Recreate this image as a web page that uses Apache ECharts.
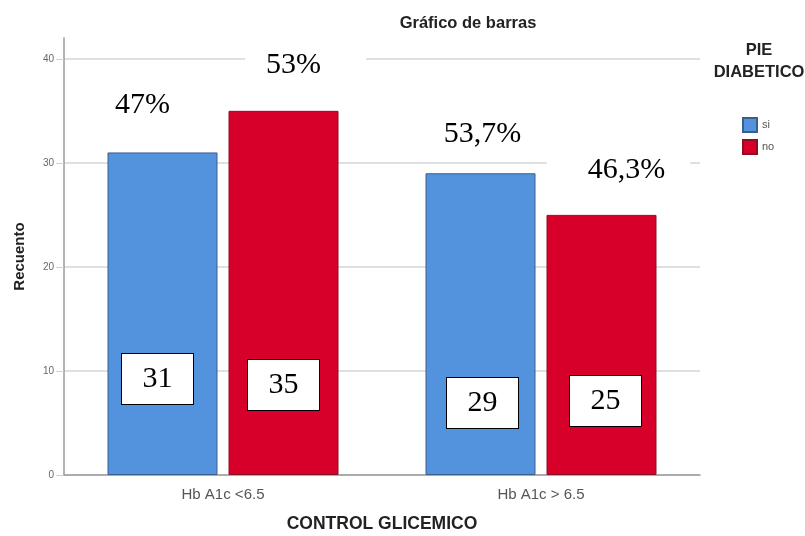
<!DOCTYPE html>
<html>
<head>
<meta charset="utf-8">
<script src="https://cdn.jsdelivr.net/npm/echarts@6/dist/echarts.min.js"></script>
<style>
  html, body { margin: 0; padding: 0; background: #fff; }
  #main { width: 805px; height: 536px; }
</style>
</head>
<body>
<div id="main"></div>
<script>
// datos
var categories = ['Hb A1c <6.5', 'Hb A1c > 6.5'];
var siCounts = [31, 29];
var noCounts = [35, 25];
var siPct = ['47%', '53,7%'];
var noPct = ['53%', '46,3%'];
var yTicks = [0, 10, 20, 30, 40];

// ajustes de posicion de las etiquetas (px)
var countPos = {
    si: [{ dist: 71, dx: -5 }, { dist: 47, dx: 2 }],
    no: [{ dist: 65, dx: 0 }, { dist: 49, dx: 4 }]
};
var pctPos = {
    si: [{ dist: 30, dx: -20, pad: [2, 30, 2, 30] }, { dist: 22, dx: 2, pad: [2, 30, 2, 30] }],
    no: [{ dist: 29, dx: 22, pad: [2, 45, 2, 21] }, { dist: 28, dx: 17, pad: [2, 25, 2, 41] }]
};

var SANS = '"Liberation Sans", Arial, sans-serif';
var SERIF = '"Liberation Serif", "DejaVu Serif", serif';

function countData(values, pos) {
    return values.map(function (v, i) {
        return {
            value: v,
            label: {
                show: true,
                position: 'insideBottom',
                distance: pos[i].dist,
                offset: [pos[i].dx, 0],
                formatter: String(v),
                fontFamily: SERIF,
                fontSize: 30,
                color: '#000',
                backgroundColor: '#fff',
                borderColor: '#000',
                borderWidth: 1,
                width: 71,
                height: 50,
                lineHeight: 50,
                align: 'center'
            }
        };
    });
}

function pctData(values, texts, pos) {
    return values.map(function (v, i) {
        return {
            value: v,
            label: {
                show: true,
                position: 'top',
                distance: pos[i].dist,
                offset: [pos[i].dx, 0],
                formatter: texts[i],
                fontFamily: SERIF,
                fontSize: 30,
                lineHeight: 30,
                color: '#000',
                backgroundColor: '#fff',
                padding: pos[i].pad
            }
        };
    });
}

var myChart = echarts.init(document.getElementById('main'));

var option = {
    backgroundColor: '#fff',
    animation: false,
    title: [
        {
            text: 'Gráfico de barras',
            left: 463,
            top: 10,
            textAlign: 'center',
            textStyle: { fontFamily: SANS, fontSize: 16.5, fontWeight: 'bold', color: '#222' }
        },
        {
            text: 'PIE\nDIABETICO',
            left: 754,
            top: 34,
            textAlign: 'center',
            textStyle: { fontFamily: SANS, fontSize: 16.5, lineHeight: 22, fontWeight: 'bold', color: '#222' }
        }
    ],
    legend: {
        data: ['si', 'no'],
        orient: 'vertical',
        left: 737,
        top: 112,
        itemWidth: 14,
        itemHeight: 14,
        itemGap: 6,
        icon: 'rect',
        textStyle: { fontFamily: SANS, fontSize: 11, color: '#555' }
    },
    grid: { left: 64, right: 105, top: 38, bottom: 61, outerBoundsMode: 'none' },
    xAxis: [
        {
            type: 'category',
            data: categories,
            name: 'CONTROL GLICEMICO',
            nameLocation: 'middle',
            nameGap: 40,
            nameTextStyle: { fontFamily: SANS, fontSize: 17.5, fontWeight: 'bold', color: '#222' },
            axisLine: { lineStyle: { color: '#9a9a9a', width: 1.5 } },
            axisTick: { show: false },
            axisLabel: { fontFamily: SANS, fontSize: 15, color: '#555', margin: 12 }
        },
        {
            type: 'category',
            data: categories,
            show: false
        }
    ],
    yAxis: {
        type: 'value',
        min: 0,
        max: 42,
        interval: 10,
        name: 'Recuento',
        nameLocation: 'middle',
        nameGap: 37,
        nameTextStyle: { fontFamily: SANS, fontSize: 15, fontWeight: 'bold', color: '#222' },
        axisLine: { show: true, lineStyle: { color: '#9a9a9a', width: 1.5 } },
        axisTick: { show: true, length: 8, lineStyle: { color: '#cfcfcf' }, customValues: yTicks },
        axisLabel: { fontFamily: SANS, fontSize: 10, color: '#666', margin: 10, customValues: yTicks },
        splitLine: { show: true, lineStyle: { color: '#d6d6d6', width: 1.5 } }
    },
    series: [
        {
            name: 'si',
            type: 'bar',
            barWidth: 110,
            barGap: '10%',
            itemStyle: { color: '#5393dd', borderColor: '#3a5f8c', borderWidth: 1 },
            data: countData(siCounts, countPos.si)
        },
        {
            name: 'no',
            type: 'bar',
            barWidth: 110,
            barGap: '10%',
            itemStyle: { color: '#d6002b', borderColor: '#8c1020', borderWidth: 1 },
            data: countData(noCounts, countPos.no)
        },
        {
            // capa transparente solo para los porcentajes
            name: 'si',
            type: 'bar',
            xAxisIndex: 1,
            barWidth: 110,
            barGap: '10%',
            silent: true,
            itemStyle: { color: 'rgba(0,0,0,0)' },
            data: pctData(siCounts, siPct, pctPos.si)
        },
        {
            name: 'no',
            type: 'bar',
            xAxisIndex: 1,
            barWidth: 110,
            barGap: '10%',
            silent: true,
            itemStyle: { color: 'rgba(0,0,0,0)' },
            data: pctData(noCounts, noPct, pctPos.no)
        }
    ]
};

myChart.setOption(option);
</script>
</body>
</html>
